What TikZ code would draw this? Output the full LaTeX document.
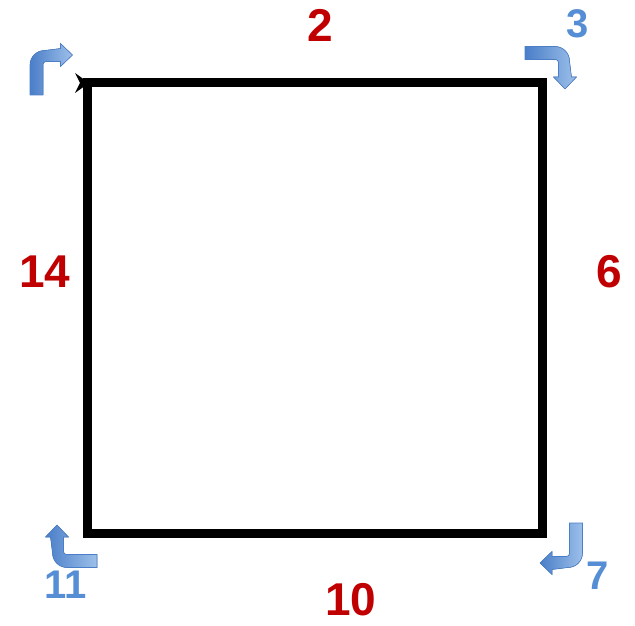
\documentclass[tikz,border=0pt]{standalone}
\usepackage{fontspec}
\setmainfont{Liberation Sans}
\definecolor{numred}{HTML}{C00000}
\definecolor{numblue}{HTML}{558ED5}
\definecolor{arrlight}{HTML}{9DC0EA}
\definecolor{arrdark}{HTML}{4A7EC8}
\tikzset{
  rednum/.style={text=numred, inner sep=0pt, font=\bfseries\fontsize{46}{46}\selectfont},
  bluenum/.style={text=numblue, inner sep=0pt, font=\bfseries\fontsize{40}{40}\selectfont},
  % bent arrow: goes up, then turns right
  bent/.pic={
    \filldraw[draw=arrdark, line width=0.6pt, left color=arrdark, right color=arrlight]
      (-6.5,0) -- (-6.5,30) arc[start angle=180, end angle=90, radius=14.5]
      -- (24,46.5) -- (24,51.5) -- (36,40) -- (24,28.5) -- (24,33.5)
      -- (9.5,33.5) arc[start angle=90, end angle=180, radius=3] -- (6.5,0) -- cycle;
  }
}
\begin{document}
\begin{tikzpicture}[x=1pt, y=1pt]
  \useasboundingbox (0,0) rectangle (635,625);

  % the square
  \coordinate (tl) at (87,542);
  \coordinate (br) at (542,92);
  \draw[line width=9pt] (tl) rectangle (br);
  \fill (75,552) -- (89,542) -- (75,532) -- (80,542) -- cycle;

  % turning arrows at the corners
  \pic (tlarrow) at (36.5,530) {bent};
  \pic[rotate=-90] (trarrow) at (525,572) {bent};
  \pic[rotate=180] (brarrow) at (576,102) {bent};
  \pic[rotate=90] (blarrow) at (97,64) {bent};

  % numbers on the sides
  \node[rednum] (top) at (320,600) {2};
  \node[rednum] (right) at (609,353) {6};
  \node[rednum] (bottom) at (351,25) {10};
  \node[rednum] (left) at (45,353) {14};

  % numbers at the corners
  \node[bluenum] (trnum) at (578,601) {3};
  \node[bluenum] (brnum) at (598,49) {7};
  \node[bluenum] (blnum) at (66,40) {11};
\end{tikzpicture}
\end{document}
